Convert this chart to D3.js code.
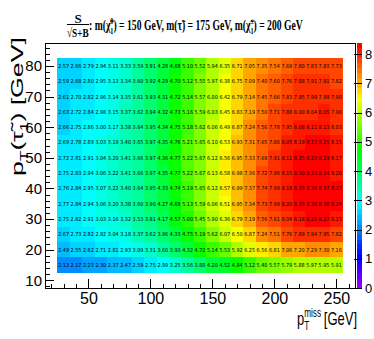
<!DOCTYPE html>
<html>
<head>
<meta charset="utf-8">
<script src="https://d3js.org/d3.v7.min.js"></script>
<style>
body{margin:0;background:#fff;}
</style>
</head>
<body>
<script>
// bin centres (GeV)
var xCenters = [30,40,50,60,70,80,90,100,110,120,130,140,150,160,170,180,190,200,210,220,230,240,250];
var yCenters = [15,20,25,30,35,40,45,50,55,60,65,70,75,80];

// S/sqrt(S+B) per row (pT(stau) bin), left to right in pT miss
var row15 = [2.13,2.17,2.23,2.30,2.37,2.47,2.59,2.75,2.99,3.25,3.56,3.88,4.20,4.52,4.84,5.12,5.40,5.57,5.79,5.88,5.97,5.95,5.91];
var row20 = [2.49,2.55,2.62,2.71,2.81,2.93,3.09,3.31,3.60,3.93,4.32,4.72,5.14,5.53,5.92,6.25,6.56,6.81,7.06,7.20,7.29,7.30,7.16];
var row25 = [2.67,2.73,2.82,2.92,3.04,3.18,3.37,3.62,3.96,4.33,4.75,5.19,5.62,6.07,6.50,6.87,7.24,7.51,7.76,7.89,7.94,7.95,7.82];
var row30 = [2.75,2.82,2.91,3.03,3.16,3.32,3.53,3.81,4.17,4.57,5.00,5.45,5.90,6.36,6.79,7.19,7.56,7.81,8.04,8.18,8.25,8.27,8.15];
var row35 = [2.77,2.84,2.94,3.06,3.20,3.38,3.60,3.90,4.27,4.68,5.13,5.59,6.06,6.51,6.95,7.34,7.73,7.98,8.20,8.33,8.38,8.38,8.24];
var row40 = [2.76,2.84,2.95,3.07,3.22,3.40,3.64,3.95,4.33,4.74,5.19,5.65,6.12,6.57,6.99,7.37,7.74,7.98,8.18,8.33,8.36,8.37,8.23];
var row45 = [2.75,2.83,2.94,3.06,3.22,3.41,3.66,3.97,4.35,4.77,5.22,5.67,6.13,6.58,6.98,7.36,7.72,7.96,8.15,8.30,8.33,8.34,8.20];
var row50 = [2.72,2.81,2.91,3.04,3.20,3.41,3.66,3.97,4.36,4.77,5.22,5.67,6.12,6.56,6.95,7.33,7.69,7.91,8.11,8.25,8.28,8.29,8.17];
var row55 = [2.69,2.78,2.89,3.03,3.19,3.40,3.65,3.97,4.35,4.76,5.21,5.65,6.10,6.53,6.93,7.31,7.65,7.86,8.05,8.19,8.22,8.25,8.15];
var row60 = [2.66,2.75,2.86,3.00,3.17,3.38,3.64,3.95,4.34,4.75,5.18,5.62,6.06,6.49,6.87,7.24,7.56,7.78,7.95,8.08,8.11,8.13,8.03];
var row65 = [2.63,2.72,2.84,2.98,3.15,3.37,3.62,3.94,4.32,4.73,5.16,5.59,6.03,6.45,6.83,7.19,7.50,7.71,7.88,8.00,8.04,8.05,7.96];
var row70 = [2.61,2.70,2.82,2.96,3.14,3.35,3.61,3.93,4.31,4.72,5.14,5.57,6.00,6.42,6.79,7.14,7.45,7.66,7.83,7.95,7.99,7.99,7.90];
var row75 = [2.59,2.68,2.80,2.95,3.13,3.34,3.60,3.92,4.29,4.70,5.12,5.55,5.97,6.38,6.75,7.09,7.40,7.60,7.76,7.88,7.91,7.91,7.82];
var row80 = [2.57,2.66,2.79,2.94,3.11,3.33,3.59,3.91,4.28,4.68,5.10,5.52,5.94,6.35,6.71,7.05,7.35,7.54,7.69,7.80,7.83,7.83,7.73];
var rows = [row15,row20,row25,row30,row35,row40,row45,row50,row55,row60,row65,row70,row75,row80];

var xMajor = [50,100,150,200,250];
var xMinor = [20,30,40,60,70,80,90,110,120,130,140,160,170,180,190,210,220,230,240,260];
var yMajor = [10,20,30,40,50,60,70,80];
var yMinor = [8,12,14,16,18,22,24,26,28,32,34,36,38,42,44,46,48,52,54,56,58,62,64,66,68,72,74,76,78,82,84,86];
var zTicks = [0,1,2,3,4,5,6,7,8];

var W = 374, H = 339;
var fL = 45, fR = 355, fT = 43, fB = 288;
var svg = d3.select("body").append("svg").attr("width",W).attr("height",H);

var x = d3.scaleLinear().domain([15,265]).range([fL,fR]);
var y = d3.scaleLinear().domain([7.5,87.5]).range([fB,fT]);
var zMax = d3.max(rows, function(r){return d3.max(r);});

// ROOT "pretty" palette: 50 hues violet -> red
var palette = [];
for (var i=0;i<49;i++) palette.push(d3.hsl(280-(i+1)*5.6,1,0.5).toString());
palette.push("rgb(255,0,0)");
var color = d3.scaleQuantize().domain([0,zMax]).range(palette);

var cells = [];
yCenters.forEach(function(yc,j){
    rows[j].forEach(function(v,i){ cells.push({x:xCenters[i], y:yc, v:v}); });
});

var g = svg.append("g");
g.selectAll("rect").data(cells).join("rect")
    .attr("x", function(d){return x(d.x-5);})
    .attr("width", function(d){return x(d.x+5)-x(d.x-5);})
    .attr("y", function(d){return y(d.y+2.5);})
    .attr("height", function(d){return y(d.y-2.5)-y(d.y+2.5);})
    .attr("fill", function(d){return color(d.v);})
    .attr("shape-rendering","crispEdges");
g.selectAll("text").data(cells).join("text")
    .attr("x", function(d){return x(d.x);})
    .attr("y", function(d){return y(d.y);})
    .attr("dy","0.36em")
    .attr("text-anchor","middle")
    .style("font-family","'Liberation Sans Narrow','DejaVu Sans Condensed',sans-serif")
    .style("font-size","5.4px")
    .attr("fill","#000")
    .text(function(d){return d.v.toFixed(2);});

// frame
svg.append("rect").attr("x",fL).attr("y",fT).attr("width",fR-fL).attr("height",fB-fT)
    .attr("fill","none").attr("stroke","#000").attr("stroke-width",1).attr("shape-rendering","crispEdges");

function styleAxis(sel, size){
    sel.select(".domain").remove();
    sel.selectAll("line").attr("stroke","#000").attr("shape-rendering","crispEdges");
    sel.selectAll("text").attr("fill","#000")
        .style("font-family","'Liberation Sans','Helvetica',sans-serif").style("font-size",size+"px");
}

svg.append("g").attr("transform","translate(0,"+fB+")")
    .call(d3.axisBottom(x).tickValues(xMinor).tickSize(-4.5).tickSizeOuter(0).tickFormat(""))
    .call(styleAxis, 15);
svg.append("g").attr("transform","translate(0,"+fB+")")
    .call(d3.axisBottom(x).tickValues(xMajor).tickSize(-9).tickSizeOuter(0).tickPadding(5))
    .call(styleAxis, 16);
svg.append("g").attr("transform","translate("+fL+",0)")
    .call(d3.axisLeft(y).tickValues(yMinor).tickSize(-4.5).tickSizeOuter(0).tickFormat(""))
    .call(styleAxis, 15);
svg.append("g").attr("transform","translate("+fL+",0)")
    .call(d3.axisLeft(y).tickValues(yMajor).tickSize(-9).tickSizeOuter(0).tickPadding(3))
    .call(styleAxis, 15);

// colour bar
var zx0 = 357, zx1 = 362;
var z = d3.scaleLinear().domain([0,zMax]).range([fB,fT]);
svg.append("g").selectAll("rect").data(palette).join("rect")
    .attr("x",zx0).attr("width",zx1-zx0)
    .attr("y", function(c){return z(color.invertExtent(c)[1]);})
    .attr("height", function(c){var e=color.invertExtent(c); return z(e[0])-z(e[1])+0.5;})
    .attr("fill", function(c){return c;})
    .attr("shape-rendering","crispEdges");
svg.append("g").attr("transform","translate("+zx1+",0)")
    .call(d3.axisRight(z).tickValues(zTicks).tickSize(-8).tickSizeOuter(0).tickPadding(3))
    .call(styleAxis, 13);

// helper: squeeze text groups horizontally to the measured width of the reference
function fit(grp, tx, ty, target, rot){
    var w = grp.node().getBBox().width;
    var s = target / w;
    grp.attr("transform","translate("+tx+","+ty+")"+(rot?" rotate("+rot+")":"")+" scale("+s+",1)");
}

var serif = "'Liberation Serif','Times New Roman',serif";
var sans = "'Liberation Sans','Helvetica',sans-serif";

// title: fraction
var fr = svg.append("g").attr("transform","translate(67,0)");
fr.append("text").attr("x",11).attr("y",23).attr("text-anchor","middle")
    .style("font-family",serif).style("font-weight","bold").style("font-size","13px").text("S");
fr.append("line").attr("x1",0).attr("x2",22).attr("y1",24.5).attr("y2",24.5).attr("stroke","#000").attr("stroke-width",1);
var den = fr.append("g");
den.append("text").attr("x",0).attr("y",0)
    .style("font-family",serif).style("font-weight","bold").style("font-size","13px").text("\u221AS+B");
fit(den, 0, 37, 22);

var tt = svg.append("g");
var t = tt.append("text").attr("x",0).attr("y",0)
    .style("font-family",serif).style("font-weight","bold").style("font-size","14px");
t.append("tspan").text(": m(\u03C7\u0303");
t.append("tspan").attr("dy",-6).style("font-size","9px").text("0");
t.append("tspan").attr("dx",-4.5).attr("dy",10).style("font-size","9px").text("1");
t.append("tspan").attr("dy",-4).text(") = 150 GeV, m(\u03C4\u0303) = 175 GeV, m(\u03C7\u0303");
t.append("tspan").attr("dy",-6).style("font-size","9px").text("\u00B1");
t.append("tspan").attr("dx",-5).attr("dy",10).style("font-size","9px").text("1");
t.append("tspan").attr("dy",-4).text(") = 200 GeV");
fit(tt, 89, 29.5, 214);

// y title
var yt = svg.append("g");
var yl = yt.append("text").attr("x",0).attr("y",0)
    .style("font-family",sans).style("font-size","17px");
yl.append("tspan").text("p");
yl.append("tspan").attr("dy",5).style("font-size","11px").text("T");
yl.append("tspan").attr("dy",-5).text("(\u03C4\u0303");
yl.append("tspan").attr("dy",5).style("font-size","11px").text("1");
yl.append("tspan").attr("dy",-5).text(") [GeV]");
fit(yt, 23, 176, 139, -90);

// x title
var xt = svg.append("g");
var p = xt.append("text").attr("x",0).attr("y",0).style("font-family",sans).style("font-size","19px").text("p");
var wp = p.node().getComputedTextLength();
xt.append("text").attr("x",wp).attr("y",5).style("font-family",sans).style("font-size","12px").text("T");
var ms = xt.append("text").attr("x",wp).attr("y",-8).style("font-family",sans).style("font-size","12px").text("miss");
var wm = ms.node().getComputedTextLength();
xt.append("text").attr("x",wp+wm+4).attr("y",0).style("font-family",sans).style("font-size","19px").text("[GeV]");
fit(xt, 297, 325, 60);
</script>
</body>
</html>
